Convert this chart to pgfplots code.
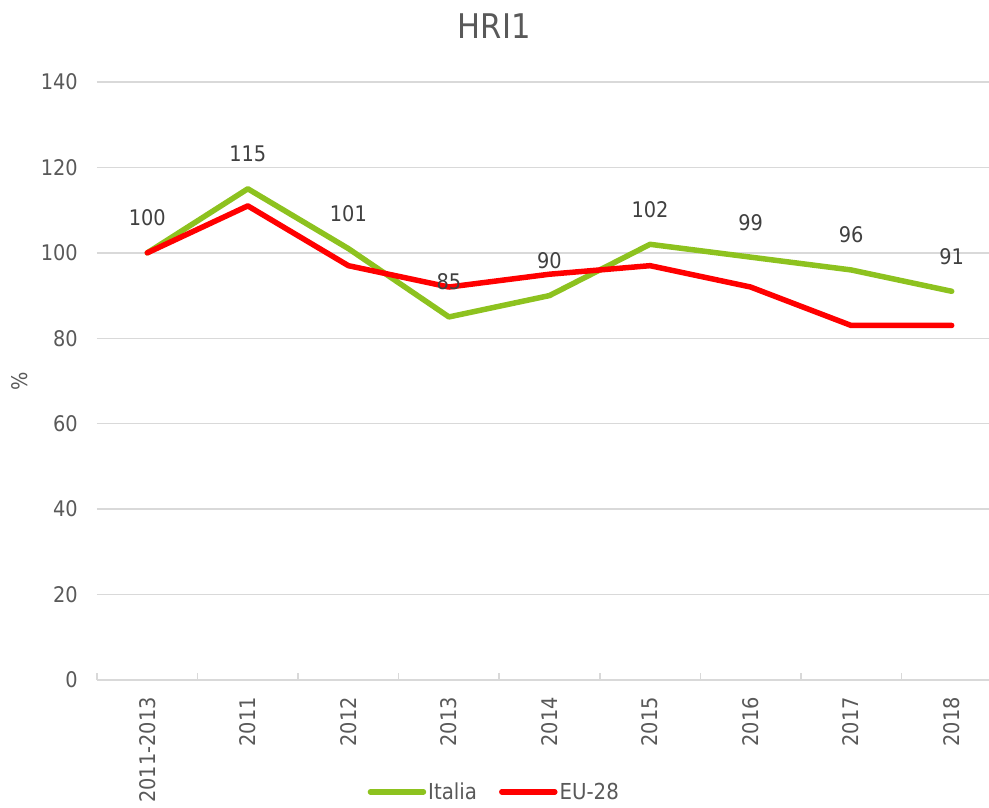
\documentclass[border=0pt]{standalone}
\usepackage{fontspec}
\setmainfont{DejaVu Sans Condensed}
\usepackage{pgfplots}
\pgfplotsset{compat=1.18}
\definecolor{txt}{HTML}{595959}
\definecolor{gridc}{HTML}{D9D9D9}
\definecolor{itgreen}{RGB}{141,194,31}
\definecolor{eured}{RGB}{255,0,0}
\begin{document}
\begin{tikzpicture}
\path[use as bounding box] (-97pt,-127pt) rectangle (892pt,680pt);
\begin{axis}[
  at={(0,0)}, anchor=south west,
  scale only axis, width=905pt, height=598pt,
  xmin=-0.5, xmax=8.5, ymin=0, ymax=140,
  ytick={0,20,...,140},
  xtick={0,...,8},
  xticklabels={2011-2013,2011,2012,2013,2014,2015,2016,2017,2018},
  minor xtick={-0.5,0.5,...,8.5},
  major x tick style={draw=none},
  minor tick length=7pt,
  tick align=inside,
  minor x tick style={draw=gridc, line width=1.5pt},
  ytick style={draw=none},
  axis x line*=bottom, axis y line*=left,
  y axis line style={draw=none},
  x axis line style={draw=gridc, line width=1.5pt, -},
  ymajorgrids, grid style={draw=gridc, line width=1.5pt},
  /pgf/number format/assume math mode=true,
  tick label style={font=\fontsize{21.5}{24}\selectfont, text=txt, inner sep=0pt},
  yticklabel style={anchor=east, xshift=-19pt},
  xticklabel style={rotate=90, anchor=east, xshift=-17pt},
  ylabel={\%},
  every axis y label/.style={at={(rel axis cs:0,0.5)}, xshift=-77pt, rotate=90, anchor=center, font=\fontsize{21.5}{24}\selectfont, text=txt},
  title={HRI1}, title style={font=\fontsize{34}{40}\selectfont, text=txt, at={(rel axis cs:0.439,1)}, anchor=center, yshift=50pt},
  legend columns=2,
  legend style={draw=none, fill=none, at={(0.439,-0.187)}, anchor=center,
    font=\fontsize{22}{24}\selectfont, text=txt, inner sep=0pt,
    /tikz/every even column/.append style={column sep=20pt}},
  legend image code/.code={\draw[#1, line cap=round] (0pt,0pt) -- (53pt,0pt);},
  clip=false,
]
\addplot[itgreen, line width=5.5pt, line join=round, line cap=round,
  nodes near coords, every node near coord/.style={anchor=south, inner sep=0pt, yshift=24pt, font=\fontsize{21.5}{24}\selectfont, text=black!75}]
  coordinates {(0,100) (1,115) (2,101) (3,85) (4,90) (5,102) (6,99) (7,96) (8,91)};
\addlegendentry{Italia}
\addplot[eured, line width=5.5pt, line join=round, line cap=round]
  coordinates {(0,100) (1,111) (2,97) (3,92) (4,95) (5,97) (6,92) (7,83) (8,83)};
\addlegendentry{EU-28}
\end{axis}
\end{tikzpicture}
\end{document}
